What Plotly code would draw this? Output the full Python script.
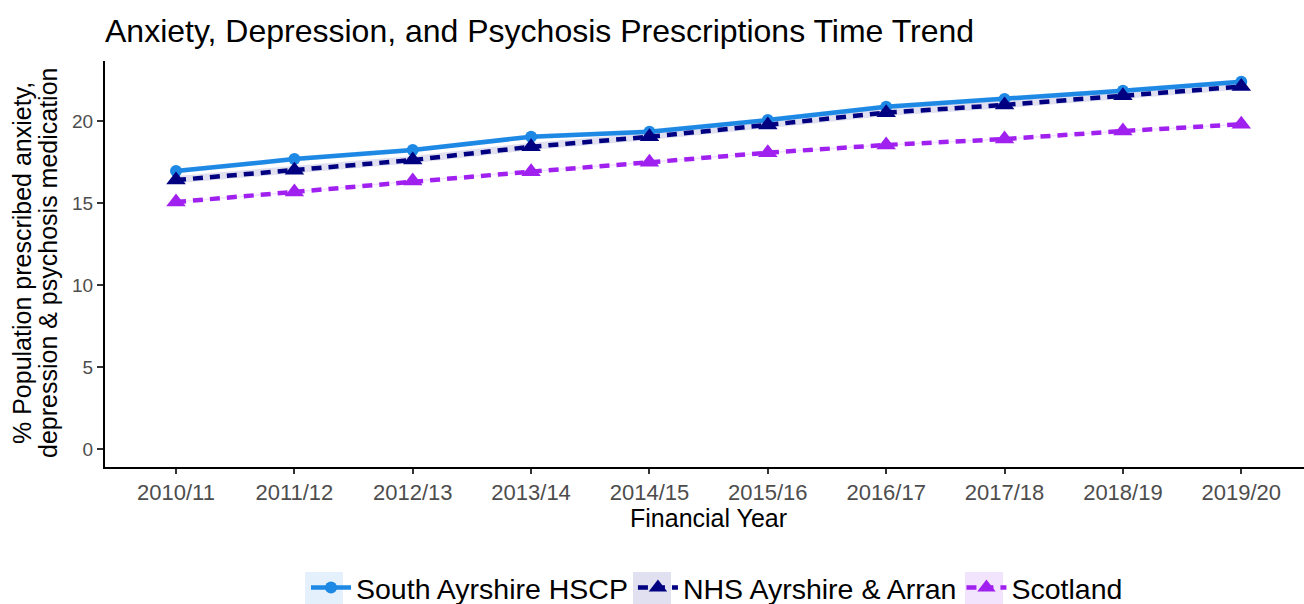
import plotly.graph_objects as go

years = ["2010/11", "2011/12", "2012/13", "2013/14", "2014/15",
         "2015/16", "2016/17", "2017/18", "2018/19", "2019/20"]

south_ayrshire = [16.95, 17.68, 18.23, 19.04, 19.35, 20.06, 20.87, 21.34, 21.85, 22.40]
south_ayrshire_lo = [16.80, 17.53, 18.08, 18.89, 19.20, 19.91, 20.72, 21.19, 21.70, 22.25]
south_ayrshire_hi = [17.10, 17.83, 18.38, 19.19, 19.50, 20.21, 21.02, 21.49, 22.00, 22.55]

nhs_aa = [16.40, 17.00, 17.62, 18.43, 19.04, 19.76, 20.51, 20.98, 21.54, 22.10]
nhs_aa_lo = [16.20, 16.80, 17.42, 18.23, 18.84, 19.56, 20.31, 20.78, 21.34, 21.90]
nhs_aa_hi = [16.65, 17.25, 17.87, 18.68, 19.29, 20.01, 20.76, 21.23, 21.79, 22.35]

scotland = [15.06, 15.67, 16.34, 16.91, 17.48, 18.07, 18.54, 18.90, 19.39, 19.80]
scotland_lo = [15.01, 15.62, 16.29, 16.86, 17.43, 18.02, 18.49, 18.85, 19.34, 19.75]
scotland_hi = [15.11, 15.72, 16.39, 16.96, 17.53, 18.12, 18.59, 18.95, 19.44, 19.85]

y_ticks = [0, 5, 10, 15, 20]

series = [
    ("South Ayrshire HSCP", south_ayrshire, south_ayrshire_lo, south_ayrshire_hi,
     "#1E88E5", "rgba(30,136,229,0.12)", "solid", "circle", 12),
    ("NHS Ayrshire & Arran", nhs_aa, nhs_aa_lo, nhs_aa_hi,
     "#000080", "rgba(0,0,128,0.12)", "10px,7px", "triangle-up", 17),
    ("Scotland", scotland, scotland_lo, scotland_hi,
     "#A020F0", "rgba(160,32,240,0.12)", "10px,7px", "triangle-up", 17),
]

xi = list(range(len(years)))
fig = go.Figure()

for name, vals, lo, hi, col, fillc, dash, sym, msize in series:
    fig.add_trace(go.Scatter(x=xi, y=lo, mode="lines", line=dict(width=0),
                             showlegend=False, hoverinfo="skip"))
    fig.add_trace(go.Scatter(x=xi, y=hi, mode="lines", line=dict(width=0),
                             fill="tonexty", fillcolor=fillc,
                             showlegend=False, hoverinfo="skip"))

for name, vals, lo, hi, col, fillc, dash, sym, msize in series:
    fig.add_trace(go.Scatter(
        x=xi, y=vals, name=name, mode="lines+markers",
        line=dict(color=col, width=4.5, dash=dash),
        marker=dict(color=col, symbol=sym, size=msize),
    ))

L, T, B = 105, 61, 467
PW, PH = 1304 - L, B - T

# light key backgrounds behind the legend symbols (ribbon fill, as in the reference)
key_centres = [324, 652, 984]
shapes = []
for cx, s in zip(key_centres, series):
    shapes.append(dict(type="rect", xref="paper", yref="paper", layer="below",
                       x0=(cx - 19 - L) / PW, x1=(cx + 19 - L) / PW,
                       y0=(B - 608) / PH, y1=(B - 572) / PH,
                       fillcolor=s[5], line=dict(width=0)))

fig.update_layout(
    width=1304, height=604,
    margin=dict(l=L, r=0, t=T, b=604 - B, autoexpand=False),
    paper_bgcolor="white", plot_bgcolor="white",
    font=dict(family="Liberation Sans, Arial, sans-serif", color="black"),
    title=dict(text="Anxiety, Depression, and Psychosis Prescriptions Time Trend",
               x=105 / 1304, xanchor="left", y=1 - 31 / 604, yanchor="middle",
               font=dict(size=32, color="black")),
    xaxis=dict(range=[-0.6, 9.53], tickvals=xi, ticktext=years,
               showline=True, linecolor="black", linewidth=2,
               ticks="outside", ticklen=5, tickwidth=2, tickcolor="#333333",
               showgrid=False, zeroline=False, automargin=False,
               tickfont=dict(size=22, color="#4D4D4D")),
    yaxis=dict(range=[-1.1, 23.66], tickvals=y_ticks,
               showline=True, linecolor="black", linewidth=2,
               ticks="outside", ticklen=6, tickwidth=2, tickcolor="#333333",
               showgrid=False, zeroline=False, automargin=False,
               tickfont=dict(size=19, color="#4D4D4D")),
    legend=dict(orientation="h", traceorder="normal",
                x=(717 - L) / PW, xanchor="center", y=(B - 588) / PH, yanchor="middle",
                font=dict(size=28.5, color="black"), itemwidth=40,
                bgcolor="rgba(0,0,0,0)"),
    showlegend=True,
    shapes=shapes,
    annotations=[
        dict(text="Financial Year", xref="paper", yref="paper",
             x=(708 - L) / PW, y=(B - 518) / PH, xanchor="center", yanchor="middle",
             showarrow=False, font=dict(size=25, color="black")),
        dict(text="% Population prescribed anxiety,",
             xref="paper", yref="paper", textangle=-90,
             x=(22 - L) / PW, y=(B - 263) / PH, xanchor="center", yanchor="middle",
             showarrow=False, font=dict(size=25, color="black")),
        dict(text="depression & psychosis medication",
             xref="paper", yref="paper", textangle=-90,
             x=(48 - L) / PW, y=(B - 263) / PH, xanchor="center", yanchor="middle",
             showarrow=False, font=dict(size=25, color="black")),
    ],
)

fig.write_html("out.html", config={"displayModeBar": False})

# remove the browser's default page margin so the figure sits at (0, 0)
with open("out.html", encoding="utf-8") as f:
    html = f.read()
html = html.replace("<head>", "<head><style>html,body{margin:0;padding:0;overflow:hidden;}</style>", 1)
with open("out.html", "w", encoding="utf-8") as f:
    f.write(html)
